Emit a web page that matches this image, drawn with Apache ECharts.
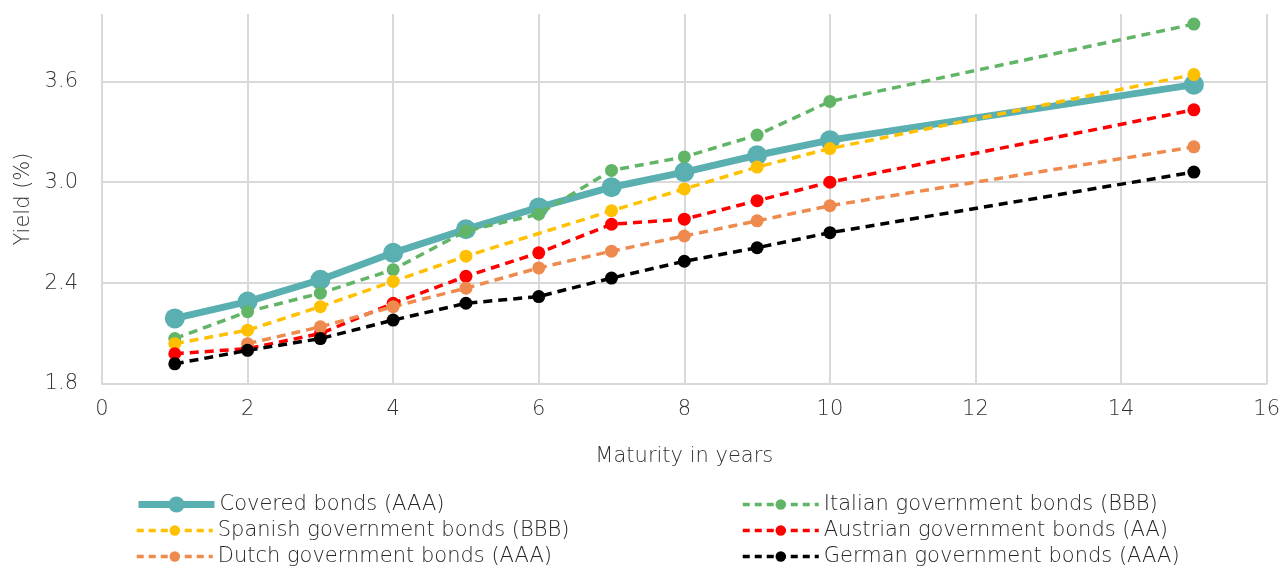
<!DOCTYPE html>
<html>
<head>
<meta charset="utf-8">
<script src="https://cdn.jsdelivr.net/npm/echarts@6/dist/echarts.min.js"></script>
<style>
html,body{margin:0;padding:0;background:#fff;}
#chart{width:1283px;height:570px;}
</style>
</head>
<body>
<div id="chart"></div>
<script>
const maturities = [1, 2, 3, 4, 5, 6, 7, 8, 9, 10, 15];
const covered  = [2.19, 2.29, 2.42, 2.58, 2.72, 2.85, 2.97, 3.06, 3.16, 3.25, 3.58];
const italian  = [2.07, 2.23, 2.34, 2.48, 2.71, 2.81, 3.07, 3.15, 3.28, 3.48, 3.94];
const spanish  = [2.04, 2.12, 2.26, 2.41, 2.56, null, 2.83, 2.96, 3.09, 3.20, 3.64];
const austrian = [1.98, 2.01, 2.10, 2.28, 2.44, 2.58, 2.75, 2.78, 2.89, 3.00, 3.43];
const dutch    = [null, 2.04, 2.14, 2.26, 2.37, 2.49, 2.59, 2.68, 2.77, 2.86, 3.21];
const german   = [1.92, 2.00, 2.07, 2.18, 2.28, 2.32, 2.43, 2.53, 2.61, 2.70, 3.06];
const seriesNames = [
  'Covered bonds (AAA)',
  'Italian government bonds (BBB)',
  'Spanish government bonds (BBB)',
  'Austrian government bonds (AA)',
  'Dutch government bonds (AAA)',
  'German government bonds (AAA)'
];
const xTitle = 'Maturity in years';
const yTitle = 'Yield (%)';

const FONT = "'DejaVu Sans ExtraLight', 'DejaVu Sans', sans-serif";
const FW = 200;
const FS = 21;
const TXT = '#333333';
const GRID = '#d9d9d9';

function pairs(vals) {
  return maturities.map((m, i) => [m, vals[i]]).filter(p => p[1] !== null);
}

function dashed(name, vals, color) {
  return {
    name: name, type: 'line', data: pairs(vals),
    symbol: 'circle', symbolSize: 13,
    itemStyle: { color: color },
    lineStyle: { color: color, width: 3.5, type: [9, 6] },
    emphasis: { disabled: true }, animation: false
  };
}

// legend positions: [left, top] for each series
const legendPos = [[135, 494], [741, 494], [135, 520], [741, 520], [135, 546], [741, 546]];

const legends = seriesNames.map((n, i) => ({
  left: legendPos[i][0], top: legendPos[i][1], padding: 0,
  itemWidth: 76, itemHeight: i === 0 ? 20 : 13,
  lineStyle: i === 0 ? { width: 7 } : { width: 3.5, type: [7, 5] },
  textStyle: { fontFamily: FONT, fontWeight: FW, fontSize: FS, color: '#262626' },
  data: [n]
}));

const chart = echarts.init(document.getElementById('chart'));
chart.setOption({
  backgroundColor: '#fff',
  animation: false,
  textStyle: { fontFamily: FONT, color: TXT },
  grid: { left: 102, right: 13, top: 14, bottom: 186 },
  xAxis: {
    type: 'value', min: 0, max: 16, interval: 2,
    name: xTitle, nameLocation: 'middle', nameGap: 62,
    nameTextStyle: { fontFamily: FONT, fontWeight: FW, fontSize: FS, color: TXT },
    axisLine: { show: true, lineStyle: { color: GRID, width: 2 } },
    axisTick: { show: false },
    axisLabel: { fontFamily: FONT, fontWeight: FW, fontSize: FS, color: TXT, margin: 15 },
    splitLine: { show: true, lineStyle: { color: GRID, width: 2 } }
  },
  yAxis: {
    type: 'value', min: 1.8, max: 4.0, interval: 0.6,
    name: yTitle, nameLocation: 'middle', nameGap: 68,
    nameTextStyle: { fontFamily: FONT, fontWeight: FW, fontSize: FS, color: TXT },
    axisLine: { show: false },
    axisTick: { show: false },
    axisLabel: {
      fontFamily: FONT, fontWeight: FW, fontSize: FS, color: TXT, margin: 24,
      formatter: v => (v > 3.9 ? '' : v.toFixed(1))
    },
    splitLine: { show: true, lineStyle: { color: [GRID, GRID, GRID, GRID, 'rgba(0,0,0,0)'], width: 2 } }
  },
  legend: legends,
  series: [
    {
      name: seriesNames[0], type: 'line', data: pairs(covered),
      symbol: 'circle', symbolSize: 20,
      itemStyle: { color: '#5AAFB1' },
      lineStyle: { color: '#5AAFB1', width: 7 },
      emphasis: { disabled: true }, animation: false, z: 1
    },
    dashed(seriesNames[1], italian, '#62B566'),
    dashed(seriesNames[2], spanish, '#FFC000'),
    dashed(seriesNames[3], austrian, '#FF0000'),
    dashed(seriesNames[4], dutch, '#EE8A4D'),
    dashed(seriesNames[5], german, '#000000')
  ]
});
</script>
</body>
</html>
